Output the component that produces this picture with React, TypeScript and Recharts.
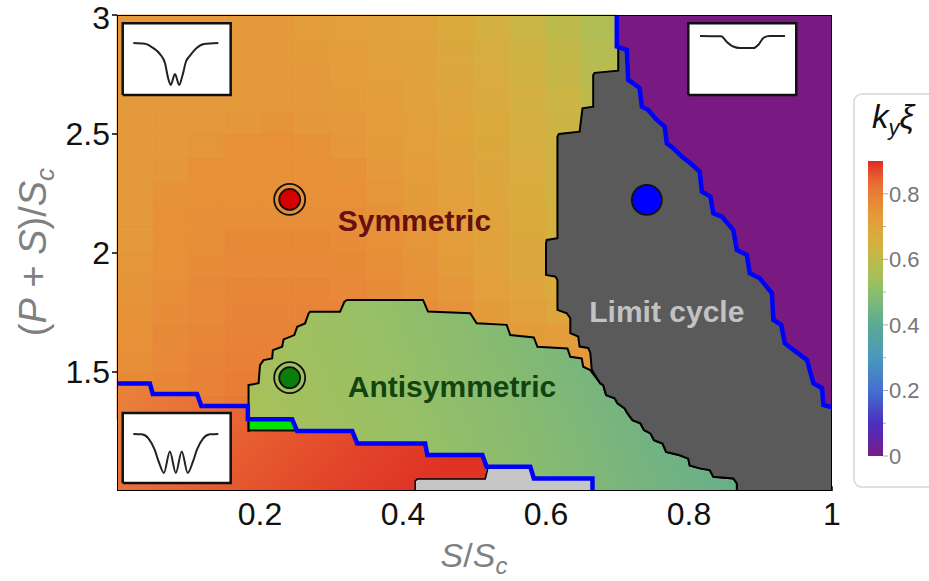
import { ScatterChart, Scatter, XAxis, YAxis, ReferenceArea, ReferenceLine } from 'recharts'

const FONT = '"Liberation Sans", Arial, sans-serif'

// k_y xi colour scale (Rainbow-like), value -> colour
const cmapStops = [0, 0.1, 0.2, 0.3, 0.4, 0.45, 0.5, 0.55, 0.6, 0.65, 0.7, 0.73, 0.76, 0.79, 0.82, 0.85, 0.88, 0.9]
const cmapColors = ['#781c86', '#4b2fbf', '#4470d0', '#4a98bc', '#5aaa94', '#72b482', '#8cbd6a', '#a6c05a', '#c0b94a', '#d4b040', '#e0a33b', '#e49a3a', '#e78e38', '#e88237', '#e87434', '#e65e2e', '#e2402a', '#e02a24']

// symmetric-branch heatmap, cells 0.05 wide (S/Sc) and 0.1 tall ((P+S)/Sc)
const xEdges = [0, 0.05, 0.1, 0.15, 0.2, 0.25, 0.3, 0.35, 0.4, 0.45, 0.5, 0.55, 0.6, 0.65, 0.7]
const yEdges = [3.0, 2.9, 2.8, 2.7, 2.6, 2.5, 2.4, 2.3, 2.2, 2.1, 2.0, 1.9, 1.8, 1.7, 1.6, 1.5, 1.4, 1.3]
const k295 = [0.73, 0.73, 0.73, 0.73, 0.73, 0.72, 0.715, 0.705, 0.695, 0.675, 0.65, 0.625, 0.595, 0.565]
const k285 = [0.73, 0.73, 0.73, 0.73, 0.73, 0.725, 0.72, 0.71, 0.7, 0.68, 0.66, 0.635, 0.605, 0.575]
const k275 = [0.73, 0.73, 0.73, 0.73, 0.73, 0.73, 0.72, 0.715, 0.7, 0.685, 0.665, 0.64, 0.615, 0.585]
const k265 = [0.73, 0.73, 0.73, 0.73, 0.73, 0.73, 0.725, 0.72, 0.705, 0.69, 0.67, 0.65, 0.625, 0.595]
const k255 = [0.73, 0.73, 0.73, 0.735, 0.745, 0.735, 0.73, 0.72, 0.71, 0.695, 0.675, 0.655, 0.63, 0.6]
const k245 = [0.73, 0.73, 0.74, 0.755, 0.755, 0.75, 0.735, 0.725, 0.715, 0.7, 0.68, 0.66, 0.635, 0.61]
const k235 = [0.73, 0.735, 0.755, 0.755, 0.755, 0.755, 0.75, 0.73, 0.72, 0.705, 0.685, 0.665, 0.64, 0.615]
const k225 = [0.73, 0.75, 0.755, 0.755, 0.755, 0.755, 0.755, 0.74, 0.725, 0.71, 0.69, 0.67, 0.645, 0.62]
const k215 = [0.73, 0.755, 0.76, 0.76, 0.76, 0.76, 0.76, 0.75, 0.73, 0.715, 0.695, 0.675, 0.65, 0.625]
const k205 = [0.73, 0.755, 0.76, 0.77, 0.77, 0.77, 0.765, 0.755, 0.74, 0.72, 0.7, 0.68, 0.655, 0.63]
const k195 = [0.74, 0.755, 0.765, 0.775, 0.775, 0.775, 0.77, 0.76, 0.745, 0.725, 0.705, 0.685, 0.665, 0.64]
const k185 = [0.745, 0.76, 0.77, 0.78, 0.78, 0.78, 0.775, 0.765, 0.75, 0.735, 0.715, 0.695, 0.675, 0.65]
const k175 = [0.75, 0.765, 0.775, 0.785, 0.785, 0.785, 0.78, 0.77, 0.76, 0.745, 0.725, 0.71, 0.69, 0.665]
const k165 = [0.755, 0.77, 0.78, 0.79, 0.79, 0.79, 0.785, 0.78, 0.765, 0.755, 0.74, 0.725, 0.72, 0.71]
const k155 = [0.76, 0.775, 0.785, 0.795, 0.795, 0.795, 0.79, 0.785, 0.775, 0.765, 0.75, 0.74, 0.735, 0.73]
const k145 = [0.77, 0.78, 0.79, 0.8, 0.8, 0.8, 0.795, 0.79, 0.78, 0.77, 0.76, 0.75, 0.74, 0.73]
const k135 = [0.78, 0.79, 0.8, 0.81, 0.81, 0.805, 0.8, 0.795, 0.785, 0.775, 0.765, 0.755, 0.745, 0.735]
const kRows = [k295, k285, k275, k265, k255, k245, k235, k225, k215, k205, k195, k185, k175, k165, k155, k145, k135]

// phase boundaries, [S/Sc, (P+S)/Sc]
const blueUpper = [
  [0.699, 3.0], [0.699, 2.867], [0.713, 2.853], [0.715, 2.727], [0.722, 2.713], [0.731, 2.692], [0.734, 2.615],
  [0.743, 2.601], [0.755, 2.559], [0.766, 2.531], [0.769, 2.461], [0.778, 2.44], [0.79, 2.405], [0.802, 2.377],
  [0.815, 2.342], [0.818, 2.258], [0.83, 2.237], [0.834, 2.167], [0.846, 2.153], [0.862, 2.097], [0.867, 2.013],
  [0.881, 1.992], [0.885, 1.915], [0.899, 1.894], [0.916, 1.831], [0.918, 1.719], [0.929, 1.698], [0.934, 1.621],
  [0.946, 1.593], [0.965, 1.551], [0.974, 1.453], [0.986, 1.432], [0.988, 1.361], [0.997, 1.354], [1.0, 1.354],
]
const cycleLeft = [
  [0.701, 2.86], [0.701, 2.766], [0.668, 2.757], [0.666, 2.748], [0.666, 2.615], [0.651, 2.608], [0.647, 2.51],
  [0.618, 2.5], [0.616, 2.489], [0.616, 2.062], [0.601, 2.055], [0.6, 2.041], [0.6, 1.908], [0.613, 1.901],
  [0.616, 1.887], [0.616, 1.761], [0.629, 1.747], [0.634, 1.726], [0.634, 1.663], [0.645, 1.649], [0.647, 1.607],
  [0.659, 1.601], [0.662, 1.58], [0.664, 1.509],
]
const cycleLower = [
  [0.676, 1.452], [0.68, 1.445], [0.684, 1.403], [0.696, 1.389], [0.7, 1.368], [0.71, 1.347], [0.714, 1.326],
  [0.721, 1.298], [0.732, 1.284], [0.737, 1.256], [0.746, 1.242], [0.751, 1.213], [0.763, 1.199], [0.768, 1.164],
  [0.787, 1.15], [0.799, 1.136], [0.801, 1.107], [0.815, 1.095], [0.829, 1.088], [0.834, 1.06], [0.862, 1.053],
  [0.867, 1.032], [0.867, 1.0],
]
const antiTop = [
  [0.184, 1.249], [0.184, 1.445], [0.198, 1.453], [0.2, 1.529], [0.205, 1.55], [0.217, 1.557], [0.218, 1.592],
  [0.231, 1.606], [0.233, 1.637], [0.248, 1.655], [0.252, 1.69], [0.263, 1.704], [0.268, 1.746], [0.27, 1.753],
  [0.312, 1.753], [0.318, 1.795], [0.322, 1.803], [0.428, 1.803], [0.435, 1.754], [0.494, 1.747], [0.503, 1.705],
  [0.545, 1.698], [0.55, 1.655], [0.583, 1.645], [0.588, 1.606], [0.63, 1.599], [0.634, 1.564], [0.65, 1.557],
  [0.652, 1.522], [0.662, 1.508],
]
const blueLower = [
  [0, 1.452], [0.046, 1.452], [0.05, 1.408], [0.112, 1.408], [0.118, 1.357], [0.183, 1.357], [0.183, 1.301],
  [0.245, 1.301], [0.252, 1.252], [0.329, 1.252], [0.336, 1.2], [0.431, 1.2], [0.434, 1.151], [0.511, 1.151],
  [0.517, 1.102], [0.578, 1.102], [0.583, 1.053], [0.665, 1.053], [0.665, 1.0],
]
const redZone = [
  [0, 1.0], [0, 1.452], [0.046, 1.452], [0.05, 1.408], [0.112, 1.408], [0.118, 1.357], [0.183, 1.357],
  [0.183, 1.252], [0.329, 1.252], [0.336, 1.2], [0.431, 1.2], [0.434, 1.151], [0.511, 1.151], [0.517, 1.102],
  [0.517, 1.0],
]
const brightGreen = [[0.184, 1.301], [0.245, 1.301], [0.252, 1.254], [0.184, 1.254], [0.184, 1.301]]
const lightGrey = [
  [0.417, 1.0], [0.417, 1.042], [0.42, 1.05], [0.515, 1.05], [0.517, 1.075], [0.519, 1.102], [0.578, 1.102],
  [0.583, 1.053], [0.665, 1.053], [0.665, 1.0], [0.417, 1.0],
]

// inset profiles (normalised position / depth)
const insetTLu = [0, 0.137, 0.235, 0.314, 0.373, 0.41, 0.44, 0.49, 0.54, 0.58, 0.62, 0.667, 0.745, 0.83, 1]
const insetTLv = [0, 0.016, 0.12, 0.264, 0.48, 0.84, 1, 0.74, 1, 0.76, 0.44, 0.3, 0.12, 0.024, 0]
const insetBLu = [0, 0.1, 0.18, 0.25, 0.3, 0.36, 0.43, 0.5, 0.57, 0.64, 0.7, 0.75, 0.82, 0.9, 1]
const insetBLv = [0, 0.01, 0.12, 0.4, 0.72, 1, 0.45, 1, 0.45, 1, 0.72, 0.4, 0.12, 0.01, 0]
const insetTRu = [0, 0.25, 0.31, 0.39, 0.47, 0.63, 0.69, 0.75, 0.82, 1]
const insetTRv = [0, 0.03, 0.45, 0.87, 1, 1, 0.7, 0.13, 0, 0]

const markers = [
  { x: 0.2415, y: 2.225, fill: '#d60000', ring: true },
  { x: 0.2415, y: 1.476, fill: '#0b7d0b', ring: true },
  { x: 0.741, y: 2.223, fill: '#0000ff', ring: false },
]
const phaseLabels = [
  { x: 0.416, y: 2.092, text: 'Symmetric', color: '#661010' },
  { x: 0.4685, y: 1.395, text: 'Antisymmetric', color: '#114411' },
  { x: 0.769, y: 1.71, text: 'Limit cycle', color: '#c2c2c2' },
]
const xTicks = [0.2, 0.4, 0.6, 0.8, 1]
const yTicks = [1.5, 2, 2.5, 3]
const barMajor = [0, 0.2, 0.4, 0.6, 0.8]
const barMinor = [0.1, 0.3, 0.5, 0.7]

const hexRgb = (c: string) => [1, 3, 5].map((i) => parseInt(c.slice(i, i + 2), 16))
function kColor(v: number) {
  let i = 0
  while (i < cmapStops.length - 2 && v > cmapStops[i + 1]) i++
  const t = Math.min(1, Math.max(0, (v - cmapStops[i]) / (cmapStops[i + 1] - cmapStops[i])))
  const a = hexRgb(cmapColors[i]), b = hexRgb(cmapColors[i + 1])
  const m = a.map((ch, j) => Math.round(ch + (b[j] - ch) * t))
  return `rgb(${m[0]},${m[1]},${m[2]})`
}

const pts = (arr: number[][]) => arr.map(([x, y]) => ({ x, y }))
const noDot = () => <g />

function poly(key: string, arr: number[][], line: Record<string, unknown>, joint = 'linear') {
  return (
    <Scatter key={key} data={pts(arr)} line={line} lineType="joint" lineJointType={joint as any}
      shape={noDot} isAnimationActive={false} legendType="none" />
  )
}

function box(x0: number, x1: number, y0: number, y1: number) {
  return [[x0, y0], [x1, y0], [x1, y1], [x0, y1], [x0, y0]]
}
function profile(u: number[], v: number[], x0: number, x1: number, yTop: number, yBot: number) {
  return u.map((uu, i) => [x0 + uu * (x1 - x0), yTop - v[i] * (yTop - yBot)])
}

const cells = kRows.flatMap((row, j) =>
  row.map((v, i) => ({ x1: xEdges[i], x2: xEdges[i + 1], y1: yEdges[j + 1], y2: yEdges[j], fill: kColor(v) }))
)

const purpleZone = [...blueUpper, [1.0, 3.0]]
const cycleZone = [...cycleLeft, ...cycleLower, [1.0, 1.0], ...[...blueUpper].reverse().slice(0, -2)]
const antiZone = [...antiTop, ...cycleLower, ...[...blueLower].reverse().slice(0, 11)]

// y tick: the top label "3" sits flush with the frame, nudge it inside the page
function YTick({ x, y, payload }: any) {
  const shift = payload.value === 3 ? 3 : 0
  return (
    <text x={x} y={y + shift} dy="0.355em" textAnchor="end" fontFamily={FONT} fontSize={32} fill="#111">
      {payload.value}
    </text>
  )
}

function ColorBar() {
  const top = 68, bottom = 363
  const yOf = (v: number) => bottom - (v / 0.9) * (bottom - top)
  return (
    <svg width={80} height={400} style={{ position: 'absolute', left: 853, top: 93 }}>
      <defs>
        <linearGradient id="cbar" x1="0" y1="1" x2="0" y2="0">
          {cmapStops.map((s, i) => <stop key={i} offset={s / 0.9} stopColor={cmapColors[i]} />)}
        </linearGradient>
      </defs>
      <rect x={1} y={1} width={100} height={393} rx={8} fill="#fff" stroke="#d6d6d6" strokeWidth={1.5} />
      <text x={40} y={35} textAnchor="middle" fontFamily={FONT} fontSize={33} fontStyle="italic" fill="#111">
        k<tspan fontSize={22} dy={7}>y</tspan><tspan dy={-7}>ξ</tspan>
      </text>
      <rect x={15} y={top} width={15} height={bottom - top} fill="url(#cbar)" />
      {barMajor.map((v) => (
        <g key={v}>
          <line x1={30} x2={35} y1={yOf(v)} y2={yOf(v)} stroke="#aaa" strokeWidth={1} />
          <text x={36} y={yOf(v) + 8} fontFamily={FONT} fontSize={22} fill="#777">{v === 0 ? '0' : v.toFixed(1)}</text>
        </g>
      ))}
      {barMinor.map((v) => (
        <line key={v} x1={30} x2={33} y1={yOf(v)} y2={yOf(v)} stroke="#aaa" strokeWidth={1} />
      ))}
    </svg>
  )
}

export default function App() {
  return (
    <div style={{ position: 'absolute', left: 0, top: 0, width: 929, height: 581, overflow: 'hidden', background: '#fff' }}>
      <ScatterChart width={929} height={581} margin={{ top: 15, right: 97, bottom: 30, left: 57 }}>
        <defs>
          <linearGradient id="redGrad" x1="0" y1="0" x2="1" y2="0.25">
            <stop offset="0" stopColor="#e8843a" />
            <stop offset="0.25" stopColor="#e8703a" />
            <stop offset="0.5" stopColor="#e65a2f" />
            <stop offset="0.75" stopColor="#e2452a" />
            <stop offset="1" stopColor="#df3424" />
          </linearGradient>
          <linearGradient id="antiGrad" x1="0" y1="0.5" x2="1" y2="0.35">
            <stop offset="0" stopColor="#a8c05a" />
            <stop offset="0.3" stopColor="#98c066" />
            <stop offset="0.55" stopColor="#86ba72" />
            <stop offset="0.8" stopColor="#70b284" />
            <stop offset="1" stopColor="#60ad8c" />
          </linearGradient>
        </defs>
        <XAxis type="number" dataKey="x" domain={[0, 1]} ticks={xTicks} interval={0} allowDataOverflow
          height={60} axisLine={false} tickLine={false} tickSize={0} tickMargin={11}
          tick={{ fill: '#111', fontSize: 32, fontFamily: FONT }} />
        <YAxis type="number" dataKey="y" domain={[1, 3]} ticks={yTicks} interval={0} allowDataOverflow
          width={60} axisLine={false} tickSize={5} tickMargin={2}
          tickLine={{ stroke: '#000', strokeWidth: 1.5 }} tick={<YTick />} />
        {cells.map((c, i) => (
          <ReferenceArea key={`c${i}`} x1={c.x1} x2={c.x2} y1={c.y1} y2={c.y2}
            fill={c.fill} fillOpacity={1} stroke={c.fill} strokeWidth={0.8} ifOverflow="visible" />
        ))}
        {poly('red', redZone, { fill: 'url(#redGrad)', stroke: 'none' })}
        {poly('anti', antiZone, { fill: 'url(#antiGrad)', stroke: '#000', strokeWidth: 2 })}
        {poly('bgreen', brightGreen, { fill: '#00e400', stroke: '#000', strokeWidth: 2 })}
        {poly('lgrey', lightGrey, { fill: '#c6c6c6', stroke: '#000', strokeWidth: 1.5 })}
        {poly('cycle', cycleZone, { fill: '#5a5a5a', stroke: '#000', strokeWidth: 2 })}
        {poly('purple', purpleZone, { fill: '#781a82', stroke: 'none' })}
        {poly('blueU', blueUpper, { fill: 'none', stroke: '#0000ff', strokeWidth: 4.5 })}
        {poly('blueL', blueLower, { fill: 'none', stroke: '#0000ff', strokeWidth: 4.5 })}
        {poly('boxTL', box(0.008, 0.159, 2.664, 2.965), { fill: '#fff', stroke: '#111', strokeWidth: 2.5 })}
        {poly('boxBL', box(0.008, 0.159, 1.034, 1.328), { fill: '#fff', stroke: '#111', strokeWidth: 2.5 })}
        {poly('boxTR', box(0.799, 0.95, 2.664, 2.965), { fill: '#fff', stroke: '#111', strokeWidth: 2.5 })}
        {poly('curveTL', profile(insetTLu, insetTLv, 0.0228, 0.1417, 2.882, 2.706), { fill: 'none', stroke: '#222', strokeWidth: 2 }, 'monotoneX')}
        {poly('curveBL', profile(insetBLu, insetBLv, 0.0228, 0.1417, 1.24, 1.076), { fill: 'none', stroke: '#222', strokeWidth: 2 }, 'monotoneX')}
        {poly('curveTR', profile(insetTRu, insetTRv, 0.8154, 0.9343, 2.912, 2.861), { fill: 'none', stroke: '#222', strokeWidth: 2 }, 'monotoneX')}
        <Scatter data={markers} isAnimationActive={false} legendType="none"
          shape={(p: any) => (
            <g>
              {p.payload.ring && <circle cx={p.cx} cy={p.cy} r={15.5} fill="none" stroke="#111" strokeWidth={1.8} />}
              <circle cx={p.cx} cy={p.cy} r={p.payload.ring ? 10.5 : 15} fill={p.payload.fill} stroke="#111" strokeWidth={1.8} />
            </g>
          )} />
        <Scatter data={phaseLabels} isAnimationActive={false} legendType="none"
          shape={(p: any) => (
            <text x={p.cx} y={p.cy} textAnchor="middle" fontFamily={FONT} fontSize={30} fontWeight="bold" fill={p.payload.color}>
              {p.payload.text}
            </text>
          )} />
        {xTicks.map((t) => (
          <ReferenceLine key={`t${t}`} segment={[{ x: t, y: 1 }, { x: t, y: 1.02 }]} stroke="#000" strokeWidth={1.5} ifOverflow="visible" />
        ))}
        {poly('frame', box(0, 1, 1, 3), { fill: 'none', stroke: '#000', strokeWidth: 2 })}
      </ScatterChart>
      <ColorBar />
      <svg width={929} height={581} style={{ position: 'absolute', left: 0, top: 0, pointerEvents: 'none' }}>
        <text x={474} y={567} textAnchor="middle" fontFamily={FONT} fontSize={34} fill="#808080">
          <tspan fontStyle="italic">S</tspan>/<tspan fontStyle="italic">S</tspan>
          <tspan fontStyle="italic" fontSize={24} dy={7}>c</tspan>
        </text>
        <text x={46} y={252} transform="rotate(-90 46 252)" textAnchor="middle" fontFamily={FONT} fontSize={38} fill="#808080">
          (<tspan fontStyle="italic">P</tspan> + <tspan fontStyle="italic">S</tspan>)/<tspan fontStyle="italic">S</tspan>
          <tspan fontStyle="italic" fontSize={26} dy={8}>c</tspan>
        </text>
      </svg>
    </div>
  )
}
